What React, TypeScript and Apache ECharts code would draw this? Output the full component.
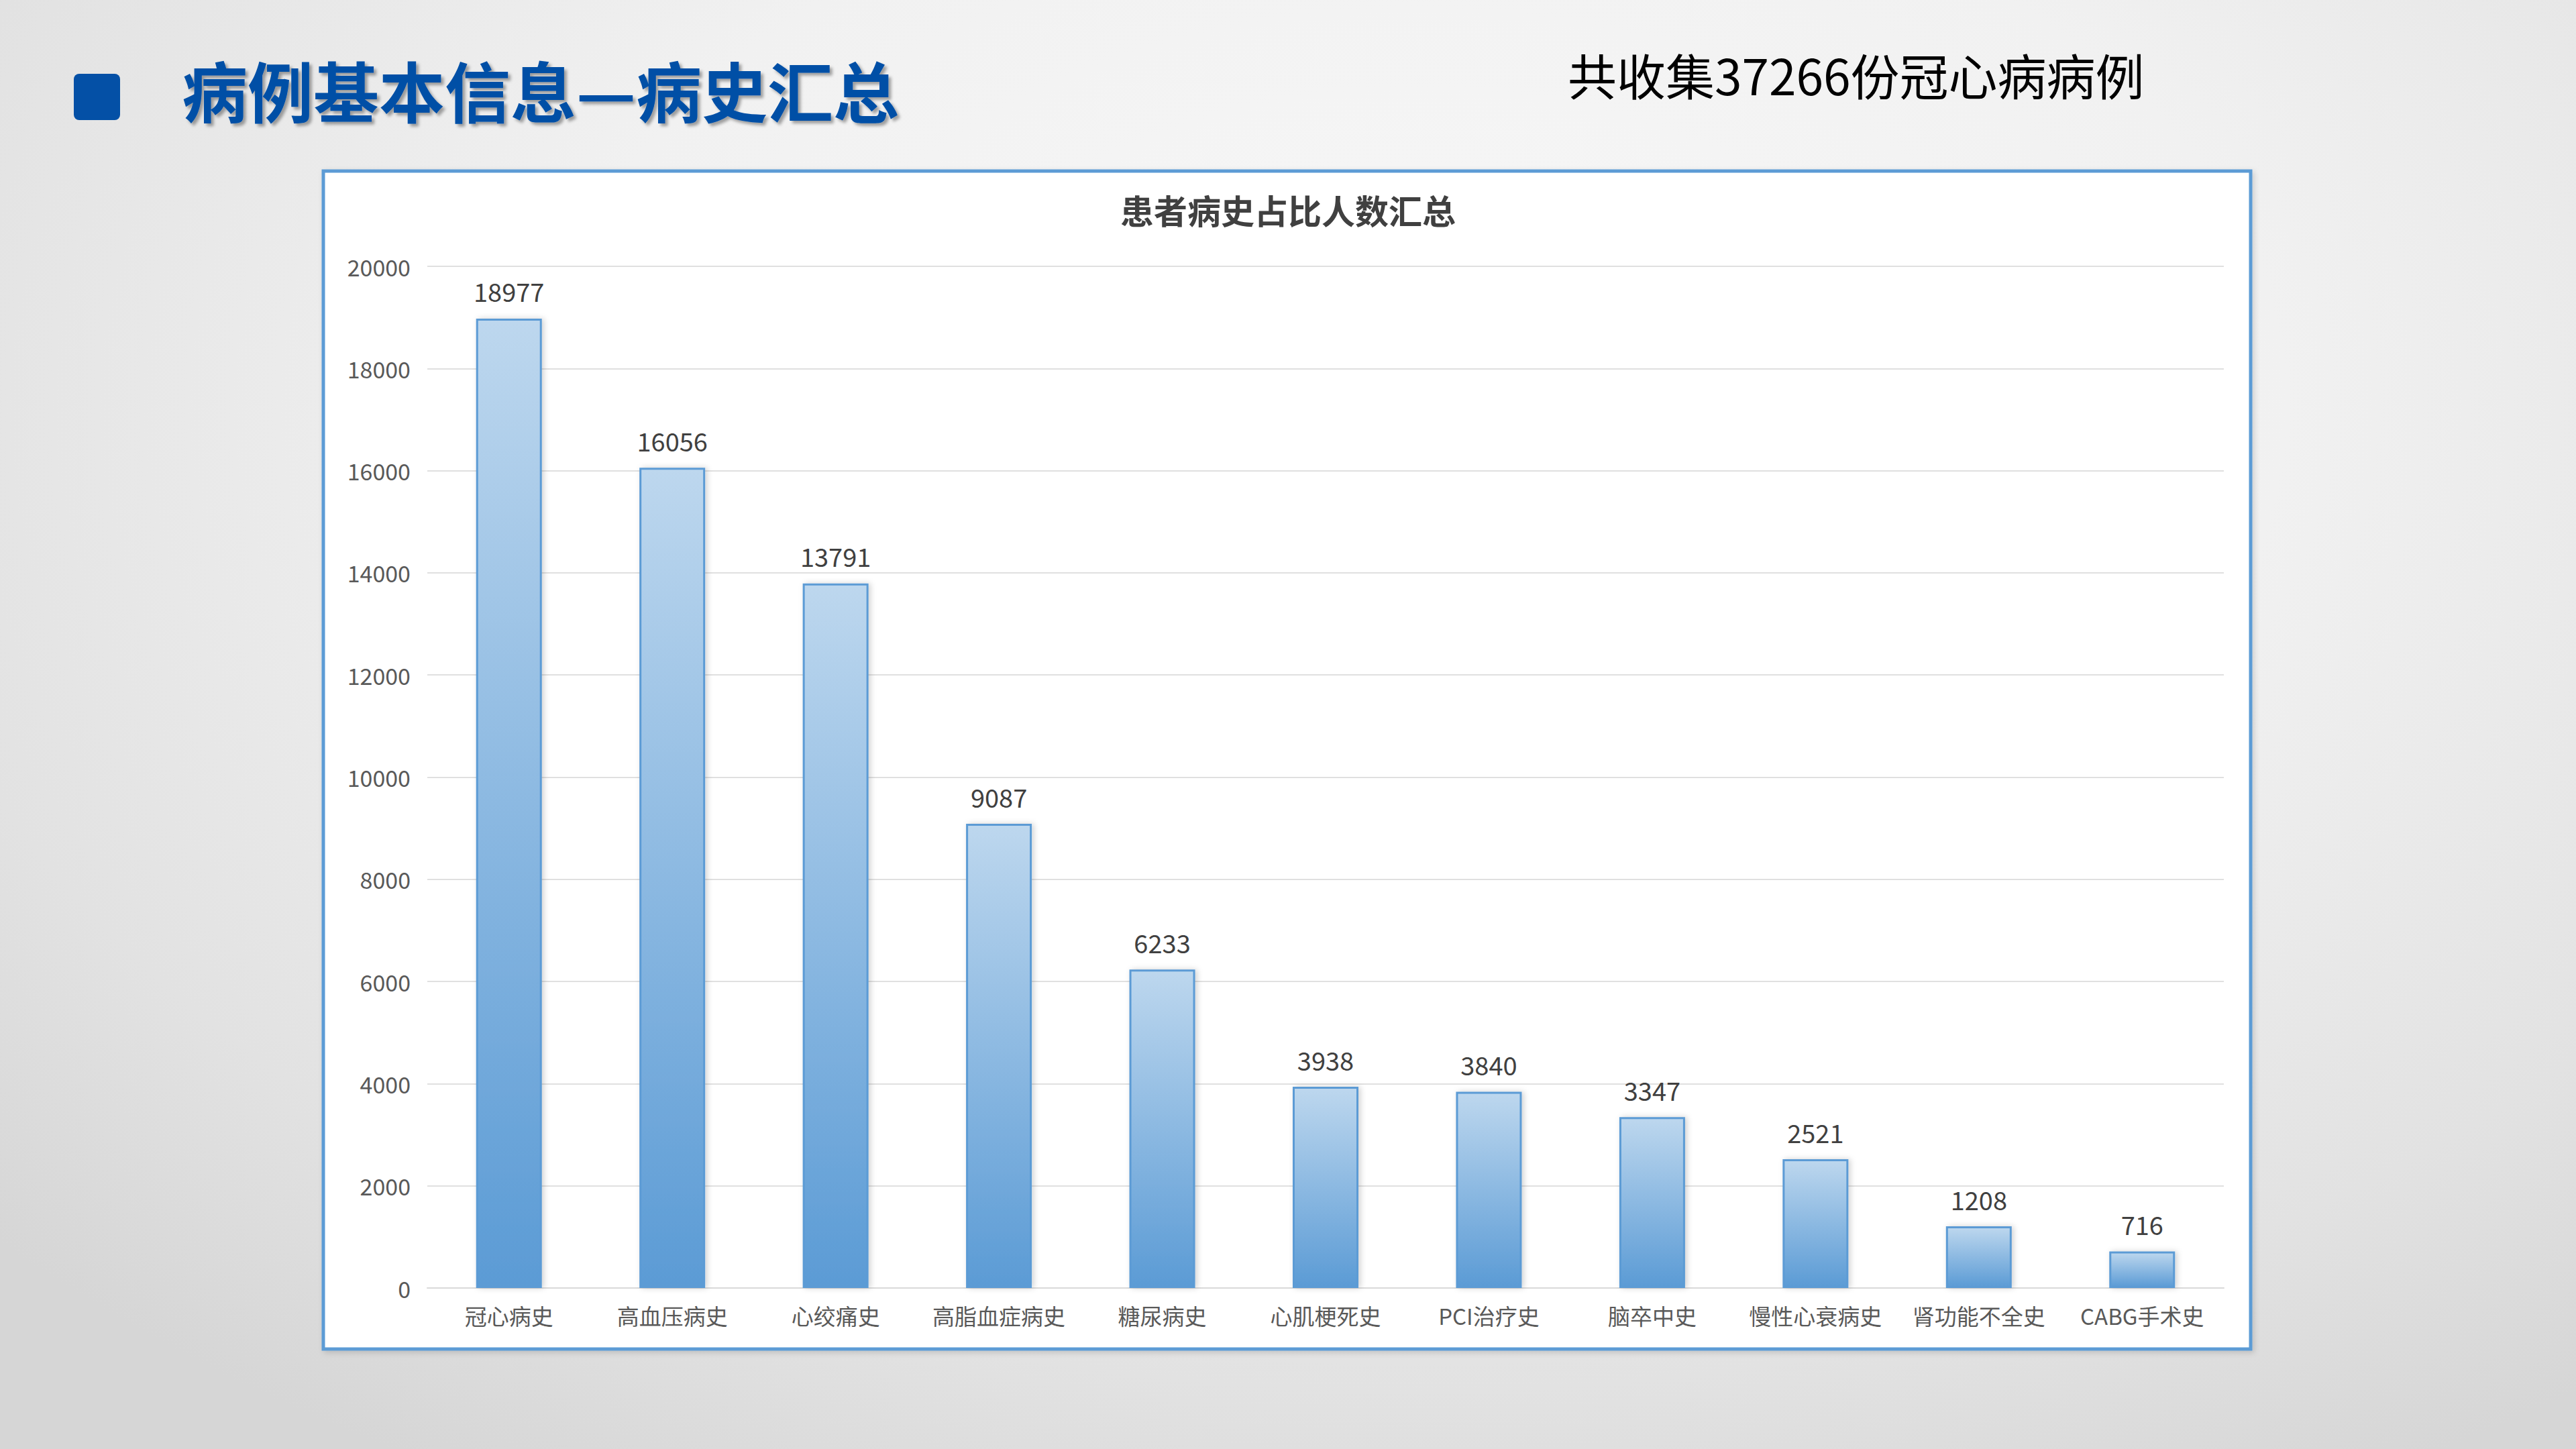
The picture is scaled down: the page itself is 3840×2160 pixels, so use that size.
import { useEffect, useRef } from "react";
import * as echarts from "echarts";

const categories = [
  "冠心病史",
  "高血压病史",
  "心绞痛史",
  "高脂血症病史",
  "糖尿病史",
  "心肌梗死史",
  "PCI治疗史",
  "脑卒中史",
  "慢性心衰病史",
  "肾功能不全史",
  "CABG手术史",
];
const patientCounts = [18977, 16056, 13791, 9087, 6233, 3938, 3840, 3347, 2521, 1208, 716];

const pageTitle = "病例基本信息—病史汇总";
const caseNote = "共收集37266份冠心病病例";
const chartTitle = "患者病史占比人数汇总";

const cjk = '"Noto Sans CJK SC", "Noto Sans", sans-serif';

function buildOption(): echarts.EChartsOption {
  return {
    animation: false,
    textStyle: { fontFamily: cjk },
    graphic: [
      {
        type: "rect",
        z: 0,
        shape: { x: 110, y: 110, width: 69, height: 69, r: 8 },
        style: { fill: "#0450a6" },
      },
      {
        type: "rect",
        z: 0,
        shape: { x: 482, y: 255, width: 2873, height: 1756 },
        style: {
          fill: "#ffffff",
          stroke: "#5b9bd5",
          lineWidth: 5,
          shadowColor: "rgba(0,0,0,0.15)",
          shadowBlur: 8,
          shadowOffsetX: 3,
          shadowOffsetY: 3,
        },
      },
    ],
    title: [
      {
        text: pageTitle,
        left: 266,
        top: 78,
        textStyle: {
          fontFamily: cjk,
          fontSize: 98,
          fontWeight: "bold",
          color: "#0450a6",
          textShadowColor: "rgba(0,0,0,0.35)",
          textShadowBlur: 4,
          textShadowOffsetX: 4,
          textShadowOffsetY: 4,
        },
      },
      {
        text: caseNote,
        left: 2332,
        top: 68,
        textStyle: {
          fontFamily: cjk,
          fontSize: 73,
          fontWeight: "normal",
          color: "#000000",
        },
      },
      {
        text: chartTitle,
        left: "center",
        top: 282,
        textStyle: {
          fontFamily: cjk,
          fontSize: 50,
          fontWeight: "bold",
          color: "#404040",
        },
      },
    ],
    grid: { left: 637, right: 525, top: 397, bottom: 240, containLabel: false },
    xAxis: {
      type: "category",
      data: categories,
      axisLine: { lineStyle: { color: "#d9d9d9", width: 2 } },
      axisTick: { show: false },
      axisLabel: {
        color: "#595959",
        fontSize: 33,
        margin: 24,
        interval: 0,
        fontFamily: cjk,
      },
    },
    yAxis: {
      type: "value",
      min: 0,
      max: 20000,
      interval: 2000,
      axisLine: { show: false },
      axisTick: { show: false },
      splitLine: { lineStyle: { color: "#e0e0e0", width: 2 } },
      axisLabel: {
        color: "#595959",
        fontSize: 34,
        margin: 25,
        fontFamily: cjk,
        formatter: (v: number) => String(v),
      },
    },
    series: [
      {
        type: "bar",
        data: patientCounts,
        barWidth: 98,
        itemStyle: {
          color: new echarts.graphic.LinearGradient(0, 0, 0, 1, [
            { offset: 0, color: "#bdd7ee" },
            { offset: 1, color: "#5b9bd5" },
          ]),
          borderColor: "#5b9bd5",
          borderWidth: 3,
          shadowColor: "rgba(0,0,0,0.18)",
          shadowBlur: 8,
          shadowOffsetX: 3,
          shadowOffsetY: 0,
        },
        label: {
          show: true,
          position: "top",
          distance: 22,
          color: "#404040",
          fontSize: 38,
          fontFamily: cjk,
        },
      },
    ],
  };
}

export default function App() {
  const chartRef = useRef<HTMLDivElement | null>(null);

  useEffect(() => {
    if (!chartRef.current) return;
    document.body.style.margin = "0";
    const instance = echarts.init(chartRef.current, undefined, { renderer: "svg" });
    instance.setOption(buildOption());
    return () => {
      instance.dispose();
    };
  }, []);

  return (
    <div
      style={{
        position: "absolute",
        left: 0,
        top: 0,
        width: 3840,
        height: 2160,
        background:
          "radial-gradient(ellipse 75% 85% at 55% 28%, #f8f8f8 0%, #f1f1f1 45%, #e2e2e2 80%, #d6d6d6 100%)",
      }}
    >
      <div ref={chartRef} style={{ width: 3840, height: 2160 }} />
    </div>
  );
}
